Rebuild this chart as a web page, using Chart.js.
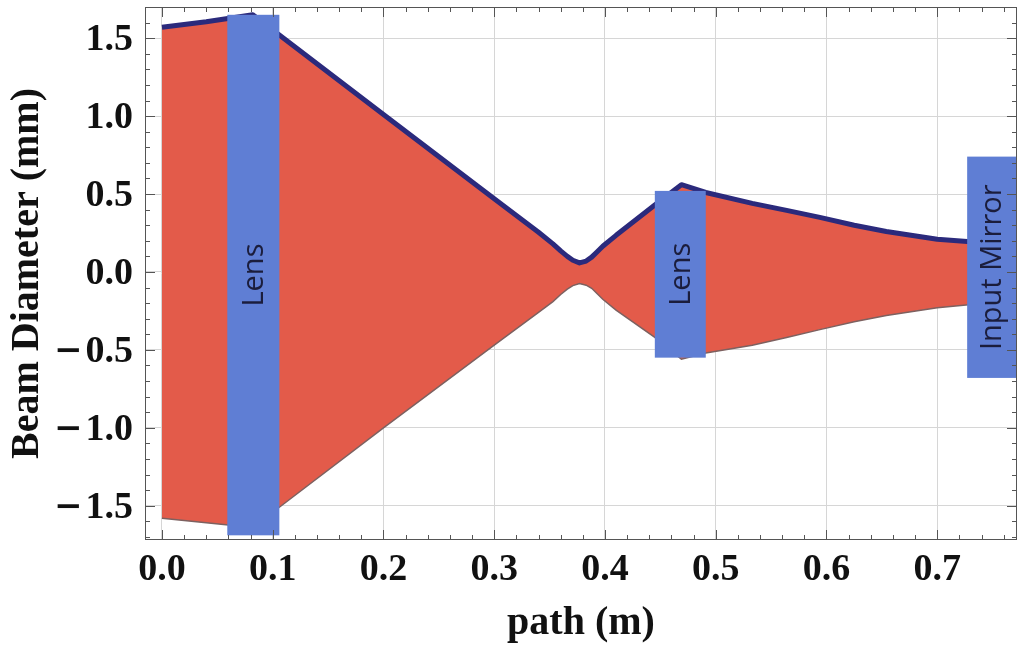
<!DOCTYPE html>
<html>
<head>
<meta charset="utf-8">
<title>Beam Diameter</title>
<script src="https://cdn.jsdelivr.net/npm/chart.js@4.4.1/dist/chart.umd.min.js"></script>
<style>
  html, body { margin: 0; padding: 0; background: #fff; }
  #beam { display: block; }
</style>
</head>
<body>
<canvas id="beam" width="1018" height="650"></canvas>
<script>
// beam envelope along the optical path (m) -> diameter edges (mm)
const pathX = [0, 0.04, 0.082, 0.106, 0.2, 0.3, 0.34, 0.353, 0.36, 0.366, 0.371, 0.377, 0.383, 0.388, 0.393, 0.398, 0.41, 0.445, 0.469, 0.491, 0.533, 0.564, 0.594, 0.625, 0.654, 0.70, 0.745];
const upperEdge = [1.57, 1.605, 1.65, 1.52, 1.01, 0.47, 0.255, 0.18, 0.135, 0.10, 0.075, 0.058, 0.07, 0.095, 0.13, 0.165, 0.235, 0.43, 0.56, 0.51, 0.44, 0.395, 0.35, 0.30, 0.26, 0.21, 0.185];
const lowerEdge = [-1.58, -1.61, -1.64, -1.51, -1.0, -0.47, -0.26, -0.19, -0.145, -0.11, -0.088, -0.075, -0.085, -0.105, -0.14, -0.175, -0.245, -0.42, -0.56, -0.52, -0.47, -0.42, -0.37, -0.32, -0.28, -0.23, -0.20];

// optical elements placed on the path
const elementNames = ['Lens', 'Lens', 'Input Mirror'];
const elementStart = [0.059, 0.445, 0.727];
const elementEnd = [0.106, 0.491, 0.772];
const elementTop = [1.65, 0.52, 0.74];
const elementBottom = [-1.69, -0.55, -0.68];

// axis ticks
const xMajorTicks = [0, 0.1, 0.2, 0.3, 0.4, 0.5, 0.6, 0.7];
const yMajorTicks = [-1.5, -1.0, -0.5, 0, 0.5, 1.0, 1.5];
const xMinorStep = 0.02;
const yMinorStep = 0.1;

const serif = '"Liberation Serif", "Times New Roman", serif';

const isMajor = (v, list) => list.some(m => Math.abs(m - v) < 1e-6);

const buildTicks = (min, max, step) => {
  const out = [];
  const first = Math.ceil(min / step - 1e-9);
  const last = Math.floor(max / step + 1e-9);
  for (let i = first; i <= last; i++) out.push({ value: +(i * step).toFixed(4) });
  return out;
};

const toPoints = ys => pathX.map((x, i) => ({ x: x, y: ys[i] }));

// y labels are drawn by hand so the minus sign can be a wide bold dash
const yLabelsPlugin = {
  id: 'yLabels',
  afterDraw(chart) {
    const { ctx, chartArea: a, scales: { y } } = chart;
    const right = a.left - 12;
    ctx.save();
    ctx.fillStyle = '#111';
    ctx.textBaseline = 'middle';
    ctx.textAlign = 'right';
    yMajorTicks.forEach(v => {
      const py = y.getPixelForValue(v) + 2;
      const digits = Math.abs(v).toFixed(1);
      ctx.font = 'bold 38px ' + serif;
      ctx.fillText(digits, right, py);
      if (v < 0) {
        const w = ctx.measureText(digits).width;
        ctx.font = 'bold 34px "DejaVu Serif", serif';
        ctx.fillText('\u2212', right - w - 3, py);
      }
    });
    ctx.restore();
  }
};

// blue boxes for the lenses and the mirror, with rotated labels
const elementsPlugin = {
  id: 'elements',
  afterDatasetsDraw(chart) {
    const { ctx, scales: { x, y } } = chart;
    ctx.save();
    elementNames.forEach((name, i) => {
      const left = x.getPixelForValue(elementStart[i]);
      const right = x.getPixelForValue(elementEnd[i]);
      const top = y.getPixelForValue(elementTop[i]);
      const bottom = y.getPixelForValue(elementBottom[i]);
      ctx.fillStyle = '#5f7ed4';
      ctx.fillRect(left, top, right - left, bottom - top);
      ctx.save();
      ctx.translate((left + right) / 2, (top + bottom) / 2);
      ctx.rotate(-Math.PI / 2);
      ctx.fillStyle = '#1b1d3c';
      ctx.font = '29px "Open Sans", sans-serif';
      ctx.textAlign = 'center';
      ctx.textBaseline = 'middle';
      ctx.fillText(name, 0, 1);
      ctx.restore();
    });
    ctx.restore();
  }
};

// frame with inward tick marks on all four sides
const framePlugin = {
  id: 'frame',
  afterDraw(chart) {
    const { ctx, chartArea: a, scales: { x, y } } = chart;
    ctx.save();
    ctx.strokeStyle = '#555';
    ctx.lineWidth = 1;
    ctx.beginPath();
    x.ticks.forEach(t => {
      const px = Math.round(x.getPixelForValue(t.value)) + 0.5;
      const len = isMajor(t.value, xMajorTicks) ? 10 : 5;
      ctx.moveTo(px, a.bottom); ctx.lineTo(px, a.bottom - len);
      ctx.moveTo(px, a.top); ctx.lineTo(px, a.top + len);
    });
    y.ticks.forEach(t => {
      const py = Math.round(y.getPixelForValue(t.value)) + 0.5;
      const len = isMajor(t.value, yMajorTicks) ? 10 : 5;
      ctx.moveTo(a.left, py); ctx.lineTo(a.left + len, py);
      ctx.moveTo(a.right, py); ctx.lineTo(a.right - len, py);
    });
    ctx.stroke();
    ctx.strokeRect(a.left + 0.5, a.top + 0.5, a.right - a.left - 1, a.bottom - a.top - 1);
    ctx.restore();
  }
};

new Chart(document.getElementById('beam'), {
  type: 'line',
  data: {
    datasets: [
      {
        label: 'upper',
        data: toPoints(upperEdge),
        borderColor: '#2b2a7c',
        borderWidth: 5,
        borderJoinStyle: 'round',
        backgroundColor: '#e35b4a',
        fill: '+1',
        pointRadius: 0,
        tension: 0
      },
      {
        label: 'lower',
        data: toPoints(lowerEdge),
        borderColor: '#7d6160',
        borderWidth: 1.5,
        fill: false,
        pointRadius: 0,
        tension: 0
      }
    ]
  },
  options: {
    responsive: false,
    animation: false,
    devicePixelRatio: 1,
    layout: { padding: { top: 7, right: 1, left: 0, bottom: 0 } },
    plugins: {
      legend: { display: false },
      tooltip: { enabled: false },
      filler: { drawTime: 'beforeDatasetsDraw' }
    },
    scales: {
      x: {
        type: 'linear',
        min: -0.0153,
        max: 0.772,
        afterBuildTicks: s => { s.ticks = buildTicks(s.min, s.max, xMinorStep); },
        afterFit: s => { s.height = 110; },
        border: { display: false },
        grid: {
          drawTicks: false,
          color: c => isMajor(c.tick.value, xMajorTicks) ? '#d6d6d6' : 'rgba(0,0,0,0)'
        },
        ticks: {
          autoSkip: false,
          maxRotation: 0,
          padding: 7,
          color: '#111',
          font: { family: serif, size: 38, weight: 'bold' },
          callback: v => isMajor(v, xMajorTicks) ? v.toFixed(1) : ''
        },
        title: {
          display: true,
          text: 'path (m)',
          color: '#111',
          font: { family: serif, size: 40, weight: 'bold' },
          padding: { top: 0, bottom: 2 }
        }
      },
      y: {
        type: 'linear',
        min: -1.72,
        max: 1.70,
        afterBuildTicks: s => { s.ticks = buildTicks(s.min, s.max, yMinorStep); },
        afterFit: s => { s.width = 145; },
        border: { display: false },
        grid: {
          drawTicks: false,
          color: c => isMajor(c.tick.value, yMajorTicks) ? '#d6d6d6' : 'rgba(0,0,0,0)'
        },
        ticks: { display: false },
        title: {
          display: true,
          text: 'Beam Diameter (mm)',
          color: '#111',
          font: { family: serif, size: 40, weight: 'bold' },
          padding: { top: 4, bottom: 0 }
        }
      }
    }
  },
  plugins: [elementsPlugin, framePlugin, yLabelsPlugin]
});
</script>
</body>
</html>
